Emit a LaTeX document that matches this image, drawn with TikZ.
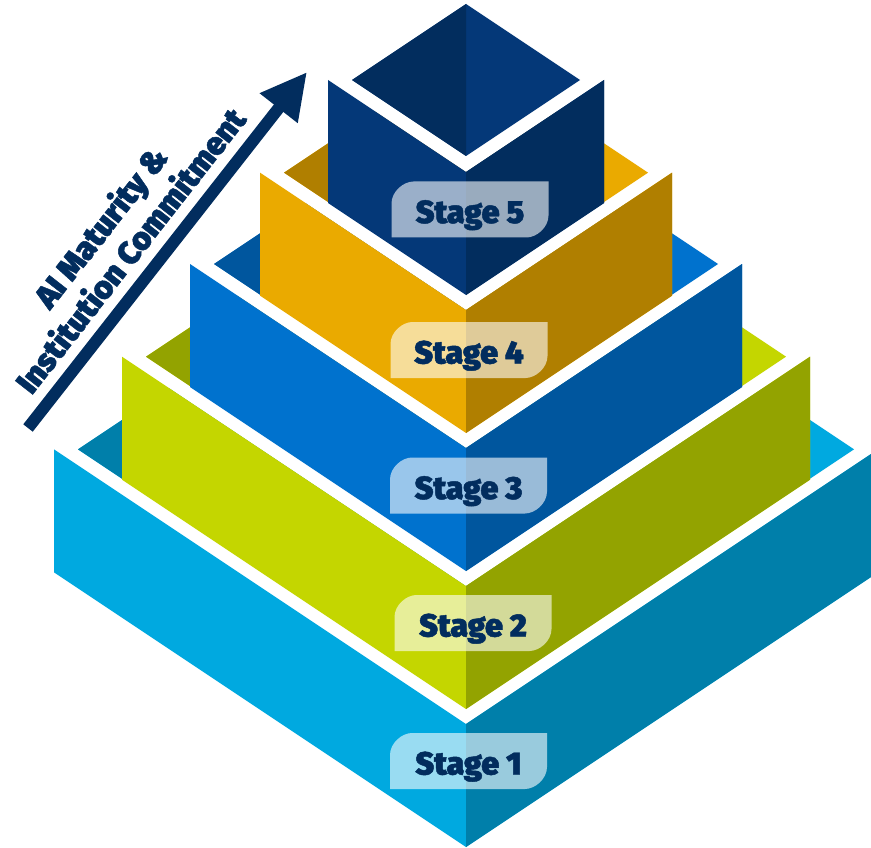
\documentclass[tikz,border=0pt]{standalone}
\usepackage{fontspec}
\newfontfamily\heavy{Fira Sans Black}[FakeBold=1.4]
\usetikzlibrary{arrows.meta}
\definecolor{sAl}{HTML}{00A9E0}
\definecolor{sAd}{HTML}{007FAA}
\definecolor{sBl}{HTML}{C4D600}
\definecolor{sBd}{HTML}{93A300}
\definecolor{sCl}{HTML}{0072CE}
\definecolor{sCd}{HTML}{00569E}
\definecolor{sDl}{HTML}{EAAA00}
\definecolor{sDd}{HTML}{B07F00}
\definecolor{sEl}{HTML}{043878}
\definecolor{sEd}{HTML}{022D5E}
\definecolor{navy}{HTML}{022D5E}
\tikzset{
  lbl/.style={font=\heavy\fontsize{32}{38}\selectfont, text=navy, inner sep=0pt, anchor=base},
  axislbl/.style={font=\heavy\fontsize{32}{38}\selectfont, text=navy, inner sep=0pt, align=center, rotate=52},
  lblbox/.style={fill=white, fill opacity=0.6},
  axisarrow/.style={draw=navy, line width=12pt, -{Triangle[length=46pt,width=45pt]}}
}
% #1 front-top y, #2 half width, #3 light colour, #4 dark colour
\newcommand\drawstage[4]{%
  \pgfmathsetmacro\sh{#2*2/3}%
  \pgfmathsetmacro\scy{#1-\sh}%
  \pgfmathsetmacro\stp{\scy-\sh}%
  \pgfmathsetmacro\wi{#2-24}%
  \pgfmathsetmacro\hi{\wi*2/3}%
  \fill[white] (466-#2,\scy) -- (466,\stp) -- (466+#2,\scy) -- (466,#1) -- cycle;
  \fill[#3] (466-\wi,\scy) -- (466,\scy-\hi) -- (466+\wi,\scy) -- (466,\scy+\hi) -- cycle;
  \fill[#4] (466-\wi,\scy) -- (466,\scy-\hi) -- (466,\scy+\hi) -- cycle;
  \fill[#3] (466-#2,\scy) -- (466,#1) -- (466+#2,\scy) -- (466+#2,\scy+123) -- (466,#1+123) -- (466-#2,\scy+123) -- cycle;
  \fill[#4] (466,#1) -- (466+#2,\scy) -- (466+#2,\scy+123) -- (466,#1+123) -- cycle;
}
% #1 name, #2 cx, #3 cy, #4 text
\newcommand\stagelabel[4]{%
  \fill[lblbox] (#2-78.5,#3+28) -- (#2-78.5,#3-6) .. controls (#2-78.5,#3-18) and (#2-66.5,#3-28) .. (#2-56.5,#3-28)
     -- (#2+78.5,#3-28) -- (#2+78.5,#3+6) .. controls (#2+78.5,#3+18) and (#2+66.5,#3+28) .. (#2+56.5,#3+28) -- cycle;
  \node[lbl] (#1) at (#2,#3+13.5) {#4};
}
\begin{document}
\begin{tikzpicture}[x=1pt,y=-1pt]
\useasboundingbox (0,0) rectangle (871,848);
\clip (0,0) rectangle (871,848);
\drawstage{724}{412}{sAl}{sAd}
\drawstage{586}{344}{sBl}{sBd}
\drawstage{448}{276}{sCl}{sCd}
\drawstage{310}{206}{sDl}{sDd}
\drawstage{172}{138}{sEl}{sEd}
\stagelabel{lbl1}{468.5}{761}{Stage 1}
\stagelabel{lbl2}{473}{623}{Stage 2}
\stagelabel{lbl3}{468.5}{485.5}{Stage 3}
\stagelabel{lbl4}{469}{350}{Stage 4}
\stagelabel{lbl5}{470}{209.5}{Stage 5}
\coordinate (arrowtail) at (28,428);
\coordinate (arrowtip) at (307,72);
\draw[axisarrow] (arrowtail) -- (arrowtip);
\node[axislbl] (axistext) at (114.5,238) {AI Maturity \&\\Institution Commitment};
\end{tikzpicture}
\end{document}
